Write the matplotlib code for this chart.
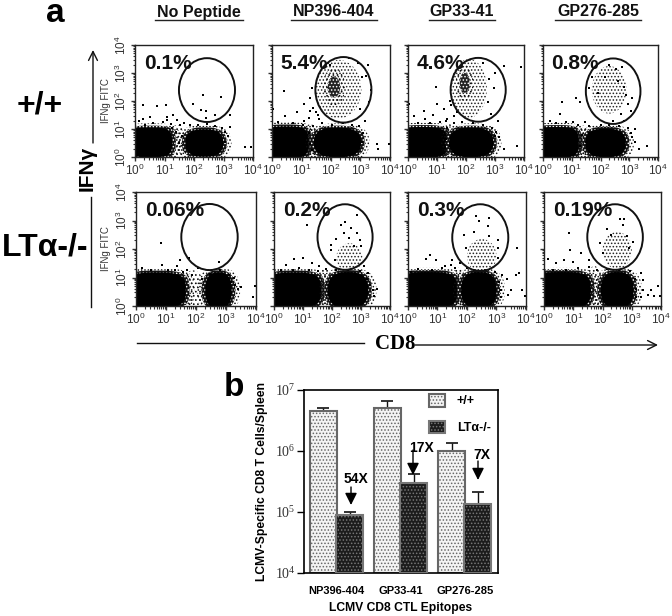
"""Flow cytometry panels (a) and epitope bar chart (b)."""
import matplotlib
matplotlib.use('Agg')
import matplotlib.pyplot as plt
import numpy as np
from matplotlib.patches import Ellipse, FancyArrowPatch, Polygon, Rectangle

W, H = 672, 616
plt.rcParams['hatch.linewidth'] = 0.7
SANS = 'Liberation Sans'
SERIF = 'Liberation Serif'

peptides = ['No Peptide', 'NP396-404', 'GP33-41', 'GP276-285']
row_pct = [['0.1%', '5.4%', '4.6%', '0.8%'], ['0.06%', '0.2%', '0.3%', '0.19%']]

# gate: centre x, centre y, radius x, radius y, in decades
gates = [
    [(2.44, 2.39, 0.95, 1.14), (2.42, 2.40, 0.95, 1.17), (2.42, 2.40, 0.95, 1.14), (2.44, 2.35, 0.95, 1.17)],
    [(2.45, 2.42, 0.94, 1.16), (2.45, 2.42, 0.95, 1.15), (2.45, 2.40, 0.95, 1.17), (2.43, 2.42, 0.95, 1.15)],
]
# dense populations: centre x, centre y, radius x, radius y
blobs_left = [
    [(0.52, 0.52, 0.72, 0.52), (0.48, 0.52, 0.74, 0.56), (0.52, 0.52, 0.80, 0.54), (0.48, 0.52, 0.74, 0.54)],
    [(0.68, 0.56, 0.96, 0.60), (0.68, 0.56, 0.92, 0.60), (0.68, 0.56, 0.96, 0.62), (0.62, 0.56, 0.96, 0.62)],
]
blobs_right = [
    [(2.35, 0.50, 0.62, 0.48), (2.22, 0.52, 0.78, 0.52), (2.18, 0.52, 0.74, 0.52), (2.18, 0.50, 0.68, 0.50)],
    [(2.75, 0.55, 0.42, 0.62), (2.55, 0.56, 0.68, 0.62), (2.40, 0.56, 0.58, 0.62), (2.50, 0.56, 0.54, 0.62)],
]
# loose events between the two populations
bridges = [
    [(1.42, 0.52, 0.32, 0.62), (1.30, 0.55, 0.30, 0.62), (1.42, 0.55, 0.30, 0.62), (1.38, 0.52, 0.32, 0.60)],
    [(1.90, 0.55, 0.40, 0.70), (1.75, 0.60, 0.30, 0.72), (1.72, 0.62, 0.30, 0.72), (1.72, 0.65, 0.30, 0.75)],
]
# stippled clouds (gate populations), same layout, None if no cloud
clouds = [
    [None, (2.25, 2.42, 0.78, 1.05), (2.10, 2.45, 0.62, 1.05), (2.30, 2.40, 0.60, 0.85)],
    [None, (2.60, 1.70, 0.45, 0.50), (2.50, 1.75, 0.50, 0.60), (2.50, 1.95, 0.50, 0.65)],
]
# dark core inside the cloud
cores = [
    [None, (2.10, 2.50, 0.38, 0.68), (1.95, 2.65, 0.30, 0.65), None],
    [None, None, None, None],
]

# sparse events, log10 units
dots = [
    [
        [(2.31, 2.23), (2.93, 2.15), (1.97, 1.91), (2.25, 1.67), (2.42, 1.64), (2.42, 1.41), (2.70, 1.49),
         (0.26, 1.85), (0.73, 1.81), (1.04, 1.85), (0.51, 1.43), (1.30, 1.49), (1.07, 1.31), (1.41, 1.31),
         (3.21, 1.49), (3.21, 1.07), (3.72, 0.36), (3.94, 0.36), (1.52, 1.13), (1.86, 1.13), (0.28, 1.37),
         (1.65, 1.20), (1.40, 0.90), (1.50, 0.50), (1.58, 0.75), (3.15, 0.75), (3.05, 0.55), (0.60, 1.22),
         (0.95, 1.25), (1.22, 1.18), (1.10, 1.42), (2.15, 1.15), (2.45, 1.18), (2.70, 1.12), (2.95, 1.05),
         (3.05, 0.88), (1.25, 1.05), (0.35, 1.15), (0.15, 1.28)],
        [(0.40, 2.35), (1.10, 1.90), (0.45, 1.45), (0.85, 1.60), (1.25, 1.40), (0.05, 1.70), (1.30, 2.10),
         (1.35, 2.45), (1.40, 1.75), (1.50, 1.60), (1.10, 1.30), (3.25, 3.30), (3.20, 2.90), (2.95, 1.10),
         (3.55, 0.45), (3.60, 0.30), (3.95, 0.45), (1.25, 0.85), (1.45, 0.60), (1.30, 0.45), (1.35, 0.25),
         (3.35, 2.40), (3.05, 2.85), (2.90, 3.35), (2.60, 3.55), (1.95, 3.30), (3.00, 1.70), (3.30, 1.95),
         (0.20, 1.25), (0.70, 1.20), (1.60, 1.35), (1.70, 1.20), (1.05, 1.15), (1.40, 1.10), (2.05, 1.15),
         (2.40, 1.20), (2.70, 1.15), (3.10, 0.85), (3.05, 0.55), (1.55, 1.50), (1.30, 1.65), (3.15, 1.30)],
        [(0.20, 1.45), (0.55, 1.65), (0.85, 1.50), (1.00, 1.90), (1.25, 1.70), (0.95, 2.50), (1.45, 2.00),
         (1.60, 1.45), (1.50, 1.85), (1.35, 1.35), (3.30, 3.25), (3.90, 3.20), (3.10, 1.30), (3.05, 0.90),
         (3.15, 0.70), (3.75, 0.40), (3.30, 0.30), (1.35, 1.05), (1.30, 0.65), (1.45, 0.40), (1.25, 0.15),
         (2.80, 2.80), (2.95, 2.45), (2.75, 1.95), (2.85, 1.55), (3.00, 3.00), (2.60, 3.35), (0.05, 1.90),
         (0.35, 1.20), (0.75, 1.22), (1.10, 1.25), (1.60, 1.20), (1.85, 1.25), (2.25, 1.20), (2.60, 1.15),
         (2.90, 1.05), (3.00, 0.75), (1.30, 1.30), (1.70, 1.60), (0.60, 1.35)],
        [(0.65, 1.95), (1.30, 1.95), (0.60, 1.55), (1.15, 2.10), (0.25, 1.30), (0.80, 1.25), (1.05, 1.25),
         (1.60, 1.10), (3.20, 1.00), (3.05, 0.85), (3.20, 0.55), (3.60, 0.40), (3.35, 0.30), (1.35, 0.80),
         (1.30, 0.40), (1.50, 0.55), (2.90, 2.20), (3.10, 2.10), (3.05, 1.65), (2.80, 1.30), (2.60, 2.70),
         (2.55, 3.15), (2.75, 3.20), (1.70, 2.85), (2.15, 2.85), (2.80, 2.50), (2.30, 3.30), (1.60, 2.45),
         (2.95, 1.90), (1.90, 2.30), (2.70, 1.55), (2.45, 1.30), (0.45, 1.20), (1.20, 1.15), (1.45, 1.25),
         (2.00, 1.15), (2.30, 1.15), (2.65, 1.12), (2.95, 1.05), (3.10, 0.70), (1.60, 0.85)],
    ],
    [
        [(0.82, 2.20), (1.77, 1.70), (2.75, 1.55), (2.05, 1.35), (1.45, 1.60), (1.70, 1.25), (1.35, 1.40),
         (0.20, 1.35), (0.85, 1.45), (3.30, 0.75), (3.40, 0.60), (3.25, 1.00), (3.10, 1.10), (3.95, 0.70),
         (3.90, 0.30), (3.50, 0.65), (2.80, 1.25), (1.30, 1.25), (0.50, 1.28), (1.05, 1.28), (1.55, 1.20),
         (1.85, 1.10), (2.20, 0.95), (2.45, 1.12), (3.15, 0.85), (3.15, 0.45)],
        [(1.15, 2.85), (2.85, 3.20), (2.30, 2.85), (2.40, 2.55), (2.65, 2.75), (1.95, 2.15), (2.15, 2.35),
         (2.60, 2.40), (2.85, 2.55), (3.00, 2.10), (2.95, 2.30), (1.95, 1.95), (2.75, 2.10), (0.70, 1.65),
         (1.00, 1.70), (0.40, 1.45), (0.85, 1.35), (1.30, 1.50), (1.55, 1.40), (1.80, 1.30), (3.10, 1.40),
         (3.20, 0.95), (3.30, 0.75), (3.40, 0.55), (3.55, 0.60), (3.10, 0.45), (2.45, 2.95), (2.10, 1.60),
         (0.25, 1.28), (0.65, 1.25), (1.20, 1.28), (1.50, 1.22), (2.15, 1.25), (2.55, 1.28), (2.95, 1.22),
         (3.25, 1.15), (3.45, 0.35)],
        [(2.30, 3.15), (2.40, 3.00), (2.75, 3.10), (2.70, 2.80), (2.25, 2.60), (1.90, 2.50), (2.75, 2.45),
         (3.05, 2.30), (3.05, 2.05), (1.95, 2.05), (3.05, 1.70), (0.10, 1.20), (0.60, 1.65), (0.75, 1.80),
         (0.95, 1.60), (1.25, 1.40), (1.50, 1.60), (1.75, 1.50), (3.70, 2.05), (3.20, 1.10), (3.35, 0.95),
         (3.65, 1.10), (3.75, 1.15), (3.50, 0.55), (3.85, 0.55), (3.95, 0.35), (3.40, 0.40), (3.15, 0.30),
         (0.35, 1.30), (0.80, 1.28), (1.15, 1.32), (1.60, 1.35), (1.45, 1.45), (2.00, 1.35), (2.25, 1.28),
         (2.60, 1.25), (2.95, 1.18), (3.10, 0.85), (3.15, 0.55)],
        [(2.60, 3.05), (2.75, 3.05), (2.70, 2.85), (0.85, 2.55), (0.90, 1.95), (1.25, 1.85), (0.15, 1.65),
         (0.40, 1.50), (0.70, 1.60), (1.00, 1.55), (1.55, 1.60), (1.90, 2.20), (2.15, 2.70), (2.30, 2.50),
         (2.85, 2.45), (3.05, 2.25), (2.90, 2.05), (3.40, 0.90), (3.30, 1.15), (3.40, 0.55), (3.65, 0.55),
         (3.90, 0.70), (3.95, 0.35), (3.75, 0.35), (3.55, 0.40), (3.15, 0.30), (2.00, 1.85), (3.30, 0.30),
         (0.30, 1.28), (0.75, 1.28), (1.15, 1.32), (1.55, 1.38), (1.80, 1.28), (2.15, 1.30), (2.55, 1.28),
         (2.95, 1.22), (3.10, 0.95), (3.15, 0.60)],
    ],
]

categories = ['NP396-404', 'GP33-41', 'GP276-285']
wt_values = [4.5e6, 5.0e6, 1.0e6]
ko_values = [8.0e4, 2.9e5, 1.25e5]
wt_tops = [5.0e6, 6.5e6, 1.35e6]
ko_tops = [1.0e5, 4.2e5, 2.1e5]
fold_labels = ['54X', '17X', '7X']


def fx(px):
    return px / W


def fy(py):
    return 1 - py / H


def superellipse(cx, cy, rx, ry, n=3.0):
    t = np.linspace(0, 2 * np.pi, 120)
    x = cx + rx * np.sign(np.cos(t)) * np.abs(np.cos(t)) ** (2 / n)
    y = cy + ry * np.sign(np.sin(t)) * np.abs(np.sin(t)) ** (2 / n)
    return np.column_stack([x, y])


def draw_population(ax, blob, n):
    cx, cy, rx, ry = blob
    # outer loose stipple, speckled band, solid centre
    ax.add_patch(Polygon(superellipse(cx, cy, rx + 0.30, ry + 0.16, n), facecolor='none',
                         edgecolor='#111111', lw=0, hatch='.....'))
    ax.add_patch(Polygon(superellipse(cx, cy, rx + 0.14, ry + 0.08, n), facecolor='#111111',
                         edgecolor='white', lw=0, hatch='.....'))
    ax.add_patch(Polygon(superellipse(cx, cy, rx + 0.02, ry + 0.01, n), facecolor='black', edgecolor='none'))


fig = plt.figure(figsize=(W / 100, H / 100), dpi=100, facecolor='white')

panel_x = [
    [(135, 253), (272, 390), (408, 524), (543, 658)],
    [(136, 256), (274, 390), (408, 526), (544, 661)],
]
panel_y = [(45, 157), (192, 306)]

for r in range(2):
    for c in range(4):
        x0, x1 = panel_x[r][c]
        y0, y1 = panel_y[r]
        ax = fig.add_axes([fx(x0), fy(y1), (x1 - x0) / W, (y1 - y0) / H])
        ax.set_xlim(0, 4)
        ax.set_ylim(0, 4)

        cx, cy, rx, ry = bridges[r][c]
        ax.add_patch(Ellipse((cx, cy), 2 * rx, 2 * ry, facecolor='none', edgecolor='#111111', lw=0, hatch='....'))
        draw_population(ax, blobs_left[r][c], 3.5)
        draw_population(ax, blobs_right[r][c], 2.6)

        if clouds[r][c] is not None:
            cx, cy, rx, ry = clouds[r][c]
            ax.add_patch(Ellipse((cx, cy), 2 * rx, 2 * ry, facecolor='none', edgecolor='#222222',
                                 lw=0, hatch='.....'))
        if cores[r][c] is not None:
            cx, cy, rx, ry = cores[r][c]
            ax.add_patch(Ellipse((cx, cy), 2 * rx, 2 * ry, facecolor='none', edgecolor='#111111',
                                 lw=0, hatch='....'))
            ax.add_patch(Ellipse((cx, cy), 1.1 * rx, 1.1 * ry, facecolor='#222222', edgecolor='white',
                                 lw=0, hatch='.....'))

        pts = np.array(dots[r][c])
        ax.scatter(pts[:, 0], pts[:, 1], s=1.1, c='black', marker='s', linewidths=0)

        gx, gy, grx, gry = gates[r][c]
        ax.add_patch(Ellipse((gx, gy), 2 * grx, 2 * gry, facecolor='none', edgecolor='#111111', lw=1.4))
        ax.text(0.30, 3.35, row_pct[r][c], fontsize=15, fontweight='bold', family=SANS,
                ha='left', va='center', color='#111111')

        minor = [n + np.log10(m) for n in range(4) for m in range(2, 10)]
        ax.set_xticks(range(5))
        ax.set_yticks(range(5))
        ax.set_xticks(minor, minor=True)
        ax.set_yticks(minor, minor=True)
        ax.set_xticklabels([f'$\\mathregular{{10^{i}}}$' for i in range(5)], fontsize=8.5, family=SANS,
                           color='#333333')
        ax.set_yticklabels([f'$\\mathregular{{10^{i}}}$' for i in range(5)], fontsize=8.5, family=SANS,
                           color='#333333', rotation=90, va='center')
        ax.tick_params(which='major', length=3, width=1, pad=1, color='#333333')
        ax.tick_params(which='minor', length=1.8, width=0.8, color='#333333')
        if c > 0:
            ax.tick_params(axis='y', which='both', labelleft=False)
        else:
            ax.set_ylabel('IFNg FITC', fontsize=7, family=SANS, color='#333333')
            ax.yaxis.set_label_coords(-0.205, 0.5)
        for s in ax.spines.values():
            s.set_linewidth(1)
            s.set_color('#222222')

# panel a annotations
fig.text(fx(55), fy(14), 'a', fontsize=24, fontweight='bold', family=SANS, ha='center', va='center')
fig.text(fx(234), fy(387), 'b', fontsize=24, fontweight='bold', family=SANS, ha='center', va='center')
header_x = [199, 334, 462, 598]
header_w = [44, 43, 33, 43]
for name, hx, hw in zip(peptides, header_x, header_w):
    fig.text(fx(hx), fy(12), name, fontsize=11.5, fontweight='bold', family=SANS, ha='center', va='center',
             color='#111111')
    fig.add_artist(plt.Line2D([fx(hx - hw), fx(hx + hw)], [fy(20), fy(20)], color='#222222', lw=1))

fig.text(fx(40), fy(105), '+/+', fontsize=23, fontweight='bold', family=SANS, ha='center', va='center')
fig.text(fx(45), fy(247), 'LT\u03b1-/-', fontsize=23, fontweight='bold', family=[SANS, 'DejaVu Sans'],
         ha='center', va='center')
fig.text(fx(87), fy(168), 'IFN\u03b3', fontsize=15, fontweight='bold', family=[SANS, 'DejaVu Sans'],
         rotation=90, ha='center', va='center')
fig.text(fx(395), fy(344), 'CD8', fontsize=15, fontweight='bold', family=SERIF, ha='center', va='center')

arrow = dict(arrowstyle='->', color='#111111', lw=1, mutation_scale=16, shrinkA=0, shrinkB=0)
fig.add_artist(plt.Line2D([fx(91), fx(91)], [fy(197), fy(307)], color='#111111', lw=1))
fig.add_artist(plt.Line2D([fx(137), fx(364)], [fy(343), fy(343)], color='#111111', lw=1))
for start, end in [((93, 143), (93, 50)), ((415, 345), (658, 345))]:
    fig.add_artist(FancyArrowPatch((fx(start[0]), fy(start[1])), (fx(end[0]), fy(end[1])),
                                   transform=fig.transFigure, **arrow))

# panel b
ax = fig.add_axes([fx(304), fy(573), (498 - 304) / W, (573 - 390) / H])
x = np.arange(len(categories))
width = 0.42
offset = 0.205
light = dict(facecolor='#f4f4f4', edgecolor='#666666', hatch='.....', linewidth=1.5)
dark = dict(facecolor='#1c1c1c', edgecolor='#777777', hatch='.....', linewidth=1.5)
ax.bar(x - offset, wt_values, width, bottom=1e4, zorder=2, **light)
ax.bar(x + offset, ko_values, width, bottom=1e4, zorder=3, **dark)
ax.set_yscale('log')
ax.set_xlim(-0.508, 2.52)
ax.set_ylim(1e4, 1e7)
ax.errorbar(x - offset, wt_values, yerr=[[0] * 3, np.array(wt_tops) - np.array(wt_values)], fmt='none',
            ecolor='#111111', capsize=4, elinewidth=1, capthick=1.2, zorder=1)
ax.errorbar(x + offset, ko_values, yerr=[[0] * 3, np.array(ko_tops) - np.array(ko_values)], fmt='none',
            ecolor='#111111', capsize=4, elinewidth=1, capthick=1.2, zorder=1)

ax.set_xticks(x)
ax.set_xticklabels(categories, fontsize=8, fontweight='bold', family=SANS)
ax.tick_params(axis='x', length=0, pad=9)
ax.set_yticks([1e4, 1e5, 1e6, 1e7])
ax.minorticks_off()
ax.set_yticklabels([f'$\\mathregular{{10^{i}}}$' for i in range(4, 8)], fontsize=10, family=SERIF, color='#333333')
ax.tick_params(axis='y', length=5, width=1, pad=1)
ax.set_xlabel('LCMV CD8 CTL Epitopes', fontsize=8.7, fontweight='bold', family=SANS, labelpad=5)
ax.set_ylabel('LCMV-Specific CD8 T Cells/Spleen', fontsize=8.7, fontweight='bold', family=SANS)
ax.yaxis.set_label_coords(-0.185, 0.5)
for s in ax.spines.values():
    s.set_linewidth(1.2)

handles = [Rectangle((0, 0), 1, 1, **light), Rectangle((0, 0), 1, 1, **dark)]
ax.legend(handles, ['+/+', 'LT\u03b1-/-'], loc='upper right', bbox_to_anchor=(1.0, 1.02), frameon=False,
          prop=dict(family=[SANS, 'DejaVu Sans'], size=9, weight='bold'), handlelength=1.3, handleheight=1.2,
          labelspacing=1.05, handletextpad=0.9, borderaxespad=0.2)

fold_x = [351, 413, 478]
fold_y0 = [487, 450, 461]
fold_y1 = [505, 475, 480]
fold_text = [(356, 479), (421, 448), (482, 455)]
for label, xa, y0, y1, txt in zip(fold_labels, fold_x, fold_y0, fold_y1, fold_text):
    fig.text(fx(txt[0]), fy(txt[1]), label, fontsize=10, fontweight='bold', family=SANS, ha='center', va='center',
             zorder=10)
    fig.add_artist(FancyArrowPatch((fx(xa), fy(y0)), (fx(xa), fy(y1)), transform=fig.transFigure,
                                   arrowstyle='-|>', color='black', lw=1, mutation_scale=18,
                                   shrinkA=0, shrinkB=0, zorder=10))

fig.savefig('out.png', dpi=100)
plt.close(fig)
